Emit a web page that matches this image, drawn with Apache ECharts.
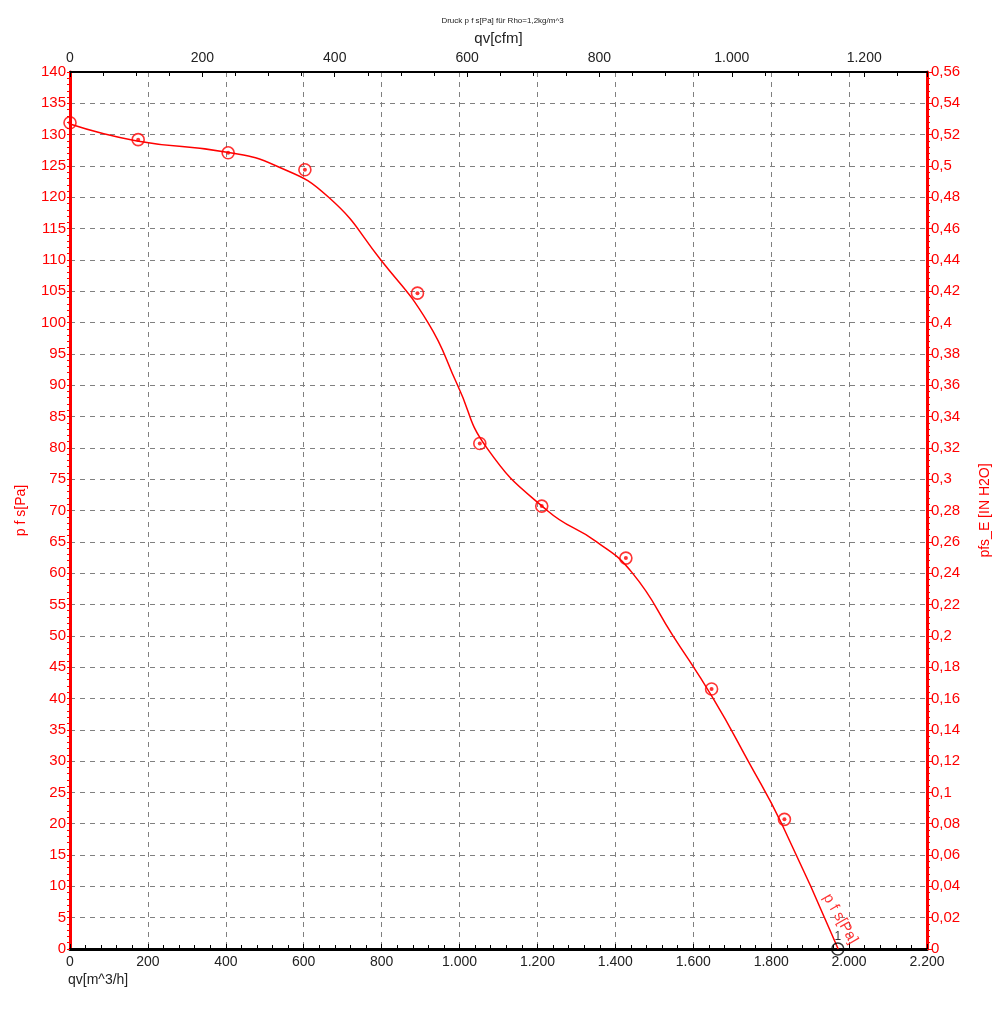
<!DOCTYPE html>
<html>
<head>
<meta charset="utf-8">
<script src="https://cdn.jsdelivr.net/npm/echarts@6/dist/echarts.min.js"></script>
<style>html,body{margin:0;padding:0;background:#fff}#c{width:1005px;height:1023px}</style>
</head>
<body>
<div id="c"></div>
<script>
// Fitted curve qv [m^3/h] -> p f s [Pa]
const curveQv = [0, 172, 403, 530, 664, 798, 919, 995, 1070, 1225, 1352, 1444, 1548, 1651, 1741, 1827, 1972];
const curveP  = [131.7, 129.0, 127.2, 125, 120, 110, 100, 90, 80, 70, 65, 60, 50, 40, 30, 20, 0];
// Measured points
const measQv = [0, 175, 406, 603, 892, 1052, 1211, 1427, 1647, 1834];
const measP  = [131.9, 129.2, 127.1, 124.4, 104.7, 80.7, 70.7, 62.4, 41.5, 20.7];
// Operating point
const opQv = [1971];
const opP = [0];

const CFM = 1.69901;
const xMax = 2200;
const RED = '#ff0000';
const FONT = 'Liberation Sans';

function deNum(v){ // German thousands separator
  const s = String(Math.round(v));
  return s.replace(/\B(?=(\d{3})+(?!\d))/g, '.');
}
function deDec(v){
  const r = Math.round(v*100)/100;
  return String(r).replace('.', ',');
}

const curveData = curveQv.map((q,i)=>[q, curveP[i]]);
const measData = measQv.map((q,i)=>[q, measP[i]]);
const opData = opQv.map((q,i)=>[q, opP[i]]);
const endData = [curveData[curveData.length-1]];

const chart = echarts.init(document.getElementById('c'));
chart.setOption({
  animation:false,
  backgroundColor:'#fff',
  title:{text:'Druck p f s[Pa] für Rho=1,2kg/m^3', left:'center', top:12,
    textStyle:{fontSize:8, fontWeight:'normal', color:'#222', fontFamily:FONT}},
  graphic:[{type:'text', left:68, top:973, style:{text:'qv[m^3/h]', fontSize:14, fill:'#222', fontFamily:FONT}}],
  grid:{left:70, right:78, top:72, bottom:74},
  xAxis:[{
    type:'value', position:'bottom', min:0, max:xMax, interval:200,
    axisLine:{show:true, onZero:false, lineStyle:{color:'#000', width:3}},
    axisTick:{show:true, inside:true, length:5, lineStyle:{color:'#000'}},
    minorTick:{show:true, splitNumber:5, length:4, lineStyle:{color:'#000'}},
    axisLabel:{color:'#222', fontSize:14, fontFamily:FONT, margin:6, formatter:deNum},
    splitLine:{show:true, lineStyle:{color:'#808080', type:[5,5], width:1}}
  },{
    type:'value', position:'top', min:0, max:xMax/CFM, interval:200,
    name:'qv[cfm]', nameLocation:'middle', nameGap:23,
    nameTextStyle:{color:'#222', fontSize:15, fontFamily:FONT},
    axisLine:{show:true, onZero:false, lineStyle:{color:'#000', width:2}},
    axisTick:{show:true, inside:true, length:5, lineStyle:{color:'#000'}},
    minorTick:{show:true, splitNumber:4, length:4, lineStyle:{color:'#000'}},
    axisLabel:{color:'#222', fontSize:14, fontFamily:FONT, margin:7, formatter:deNum, showMaxLabel:false},
    splitLine:{show:false}
  }],
  yAxis:[{
    type:'value', position:'left', min:0, max:140, interval:5,
    name:'p f s[Pa]', nameLocation:'middle', nameGap:42, nameRotate:90,
    nameTextStyle:{color:RED, fontSize:14, fontFamily:FONT},
    axisLine:{show:true, onZero:false, lineStyle:{color:RED, width:3}},
    axisTick:{show:true, inside:false, length:3, lineStyle:{color:RED}},
    minorTick:{show:true, splitNumber:5, length:3, lineStyle:{color:RED}},
    axisLabel:{color:RED, fontSize:15, fontFamily:FONT, margin:4},
    splitLine:{show:true, lineStyle:{color:'#808080', type:[5,5], width:1}}
  },{
    type:'value', position:'right', min:0, max:0.56, interval:0.02,
    name:'pfs_E [IN H2O]', nameLocation:'middle', nameGap:51, nameRotate:90,
    nameTextStyle:{color:RED, fontSize:14, fontFamily:FONT},
    axisLine:{show:true, onZero:false, lineStyle:{color:RED, width:3}},
    axisTick:{show:true, inside:false, length:5, lineStyle:{color:RED}},
    minorTick:{show:true, splitNumber:5, length:3, lineStyle:{color:RED}},
    axisLabel:{color:RED, fontSize:15, fontFamily:FONT, margin:4, formatter:deDec},
    splitLine:{show:false}
  }],
  series:[{
    type:'line', xAxisIndex:0, yAxisIndex:0, data:curveData, smooth:0.5,
    showSymbol:false, symbol:'none',
    lineStyle:{color:RED, width:1.5},
    z:3
  },{
    type:'scatter', xAxisIndex:0, yAxisIndex:0, data:measData,
    symbol:'circle', symbolSize:12,
    itemStyle:{color:'rgba(255,255,255,0)', borderColor:RED, borderWidth:1.6},
    z:4
  },{
    type:'scatter', xAxisIndex:0, yAxisIndex:0, data:measData,
    symbol:'circle', symbolSize:4,
    itemStyle:{color:RED},
    z:5
  },{
    type:'scatter', xAxisIndex:0, yAxisIndex:0, data:opData, clip:true,
    symbol:'circle', symbolSize:12,
    itemStyle:{color:'rgba(255,255,255,0)', borderColor:'#000', borderWidth:1.5},
    label:{show:true, formatter:'1', position:'top', distance:0, color:'#000', fontSize:12, fontFamily:FONT},
    z:5
  },{
    type:'scatter', xAxisIndex:0, yAxisIndex:0, data:endData, clip:false,
    symbol:'circle', symbolSize:1, itemStyle:{color:'rgba(0,0,0,0)'},
    label:{show:true, formatter:'p f s[Pa]', color:RED, fontSize:15, fontFamily:FONT,
      position:'inside', rotate:-60, offset:[-25,-17]},
    z:6
  }]
});
</script>
</body>
</html>
